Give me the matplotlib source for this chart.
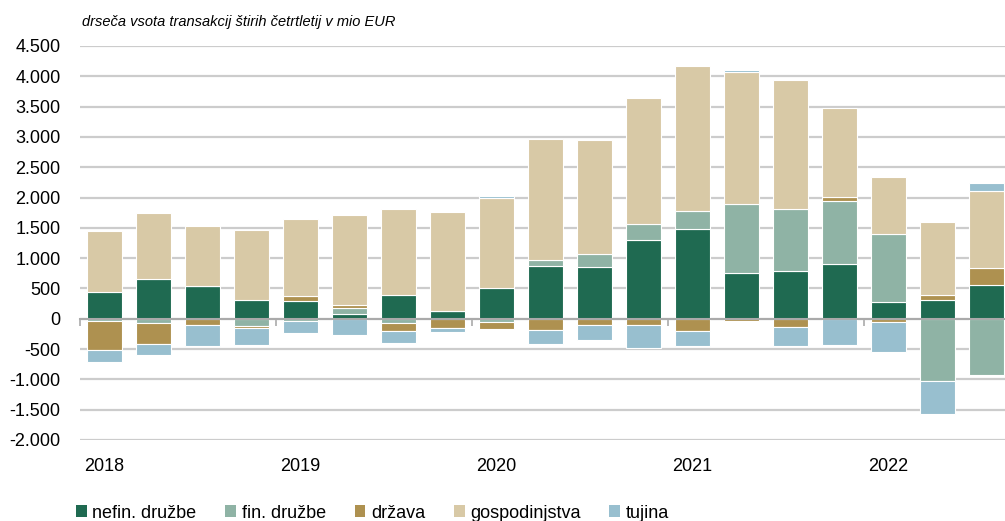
import matplotlib
matplotlib.use("Agg")
import matplotlib.pyplot as plt
import matplotlib.transforms as mtransforms
from matplotlib.patches import Patch
from matplotlib.ticker import FuncFormatter
import numpy as np

plt.rcParams['font.family'] = ['Liberation Sans', 'DejaVu Sans']

# quarters 2018Q1 .. 2022Q3, values in mio EUR
quarters = ['2018Q1', '2018Q2', '2018Q3', '2018Q4',
            '2019Q1', '2019Q2', '2019Q3', '2019Q4',
            '2020Q1', '2020Q2', '2020Q3', '2020Q4',
            '2021Q1', '2021Q2', '2021Q3', '2021Q4',
            '2022Q1', '2022Q2', '2022Q3']
years = ['2018', '2019', '2020', '2021', '2022']

nefin = [440, 660, 538, 302, 292, 76, 400, 126, 500, 863, 847, 1292,
         1473, 753, 786, 901, 274, 313, 549]
fin = [-40, -70, 0, -125, -40, 106, -70, 0, -55, 99, 219, 264,
       297, 1138, 1023, 1046, 1122, -1029, -924]
drzava = [-470, -340, -100, -25, 80, 37, -140, -154, -116, -193, -110, -110,
          -209, -40, -138, 54, -60, 83, 286]
gosp = [1005, 1090, 1000, 1155, 1279, 1489, 1414, 1631, 1500, 2008, 1887, 2084,
        2398, 2178, 2123, 1480, 947, 1198, 1277]
tujina = [-210, -195, -350, -280, -190, -264, -193, -72, 30, -226, -248, -380,
          -242, 40, -314, -440, -491, -539, 126]

series = [('nefin. družbe', nefin, '#1f6a51'),
          ('fin. družbe', fin, '#8fb3a5'),
          ('država', drzava, '#ae9150'),
          ('gospodinjstva', gosp, '#d8c9a6'),
          ('tujina', tujina, '#98bfcf')]

fig = plt.figure(figsize=(10.05, 5.21), dpi=100)
ax = fig.add_axes([80 / 1005, 81 / 521, 1 - 80 / 1005, 394 / 521])

x = np.arange(len(quarters))
pos_bottom = np.zeros(len(x))
neg_bottom = np.zeros(len(x))
handles = []
for name, vals, col in series:
    v = np.array(vals, dtype=float)
    bottom = np.where(v >= 0, pos_bottom, neg_bottom)
    ax.bar(x, v, 0.71, bottom=bottom, color=col, edgecolor='white',
           linewidth=0.8, zorder=3)
    pos_bottom += np.where(v >= 0, v, 0)
    neg_bottom += np.where(v < 0, v, 0)
    handles.append(Patch(facecolor=col, label=name))

ax.set_xlim(-0.5, 18.38)
ax.set_ylim(-2000, 4500)
ax.set_yticks(np.arange(-2000, 4501, 500))
ax.yaxis.set_major_formatter(FuncFormatter(lambda v, p: f"{v:,.0f}".replace(',', '.')))
ax.tick_params(axis='y', length=0, pad=14, labelsize=13)
ax.grid(axis='y', color='#cccccc', linewidth=1.6, zorder=0)
ax.set_axisbelow(True)

for s in ['top', 'right', 'left']:
    ax.spines[s].set_visible(False)
ax.spines['bottom'].set_position(('data', 0))
ax.spines['bottom'].set_color('#aaaaaa')
ax.spines['bottom'].set_linewidth(1.5)
ax.spines['bottom'].set_zorder(4)
ax.set_xticks([-0.5, 3.5, 7.5, 11.5, 15.5])
ax.set_xticklabels([])
ax.tick_params(axis='x', length=5, width=1.2, color='#aaaaaa', direction='out')

trans = mtransforms.blended_transform_factory(ax.transData, ax.transAxes)
for i, yr in enumerate(years):
    ax.text(i * 4, -0.066, yr, transform=trans, ha='center', va='center',
            fontsize=13)

fig.text(82 / 1005, 1 - 22 / 521, 'drseča vsota transakcij štirih četrtletij v mio EUR',
         style='italic', fontsize=10.5, va='center', ha='left')

fig.legend(handles=handles, loc='center left', bbox_to_anchor=(76 / 1005, 8 / 521),
           ncol=5, frameon=False, fontsize=13, handlelength=0.6, handleheight=0.6,
           handletextpad=0.3, columnspacing=1.6, borderaxespad=0, borderpad=0)

fig.savefig('out.png', dpi=100)
